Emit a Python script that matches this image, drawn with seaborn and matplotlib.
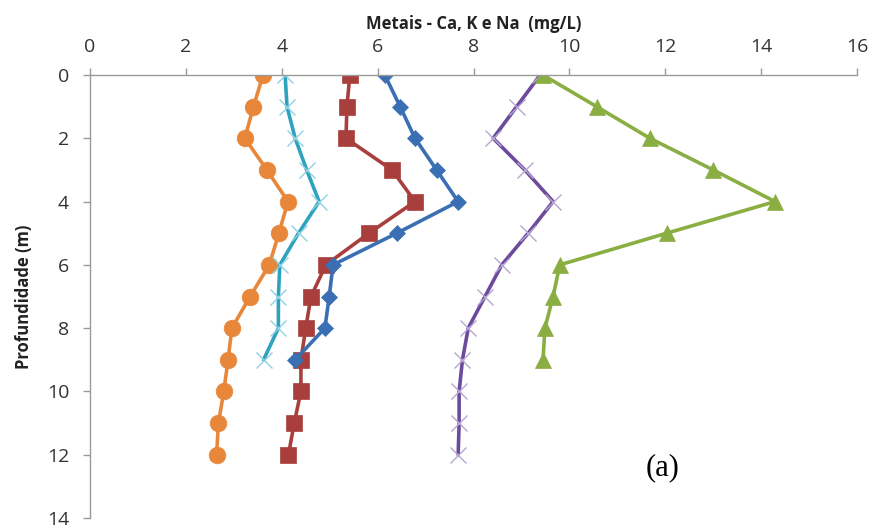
import matplotlib
matplotlib.use("Agg")
import matplotlib.pyplot as plt
import pandas as pd
import seaborn as sns

# depth (m) and concentrations (mg/L)
depth = [0, 1, 2, 3, 4, 5, 6, 7, 8, 9, 10, 11, 12]
orange = [3.61, 3.41, 3.23, 3.69, 4.13, 3.94, 3.74, 3.34, 2.96, 2.88, 2.79, 2.68, 2.64]
cyan = [4.07, 4.11, 4.28, 4.52, 4.78, 4.35, 3.96, 3.93, 3.93, 3.62]
red = [5.42, 5.36, 5.34, 6.30, 6.78, 5.82, 4.92, 4.61, 4.50, 4.40, 4.40, 4.26, 4.14]
blue = [6.15, 6.47, 6.78, 7.23, 7.68, 6.40, 5.07, 4.99, 4.90, 4.28]
purple = [9.39, 8.90, 8.41, 9.07, 9.66, 9.14, 8.59, 8.24, 7.89, 7.77, 7.70, 7.70, 7.68]
green = [9.45, 10.57, 11.68, 13.00, 14.29, 12.03, 9.80, 9.66, 9.49, 9.45]

x_ticks = [0, 2, 4, 6, 8, 10, 12, 14, 16]
y_ticks = [0, 2, 4, 6, 8, 10, 12, 14]

sns.set_style("white")
plt.rcParams["font.family"] = ["Open Sans", "DejaVu Sans"]

fig = plt.figure(figsize=(8.73, 5.28), dpi=100)
ax = fig.add_axes([90 / 873, 1 - 518 / 528, (857 - 90) / 873, (518 - 75) / 528])

series = [
    (orange, "#E8873A", "o", 12, None),
    (cyan, "#2FA3BE", "x", 11, "#8ED2E3"),
    (red, "#A83F3D", "s", 12, None),
    (blue, "#3A70B3", "D", 8.5, None),
    (purple, "#6C4A9C", "x", 11, "#B6A6D2"),
    (green, "#8AAE41", "^", 12, None),
]

for vals, color, marker, ms, mec in series:
    df = pd.DataFrame({"depth": depth[: len(vals)], "val": vals})
    sns.lineplot(
        data=df, x="val", y="depth", orient="y", ax=ax, color=color,
        linewidth=2.6, marker=marker, markersize=ms,
        markeredgecolor=mec if mec else color,
        markeredgewidth=1.0 if mec else 0.5,
    )

ax.set_xlim(0, 16)
ax.set_ylim(14, 0)
ax.set_xticks(x_ticks)
ax.set_yticks(y_ticks)
ax.xaxis.tick_top()
ax.xaxis.set_label_position("top")
ax.tick_params(axis="x", direction="out", length=5, width=1, color="#9a9a9a",
               labelsize=14, pad=9, labelcolor="#333333")
ax.tick_params(axis="y", direction="out", length=5, width=1, color="#9a9a9a",
               labelsize=14, pad=10, labelcolor="#333333", left=True)
for side in ["bottom", "right"]:
    ax.spines[side].set_visible(False)
for side in ["top", "left"]:
    ax.spines[side].set_color("#9a9a9a")
    ax.spines[side].set_linewidth(1)

ax.set_xlabel("Metais - Ca, K e Na  (mg/L)", fontsize=12, fontweight="bold",
              labelpad=6, color="#222222")
ax.set_ylabel("Profundidade (m)", fontsize=12, fontweight="bold",
              labelpad=10, color="#222222")

ax.text(11.95, 12.4, "(a)", fontsize=22, family="Liberation Serif",
        ha="center", va="center", color="black")

fig.savefig("out.png", dpi=100)
